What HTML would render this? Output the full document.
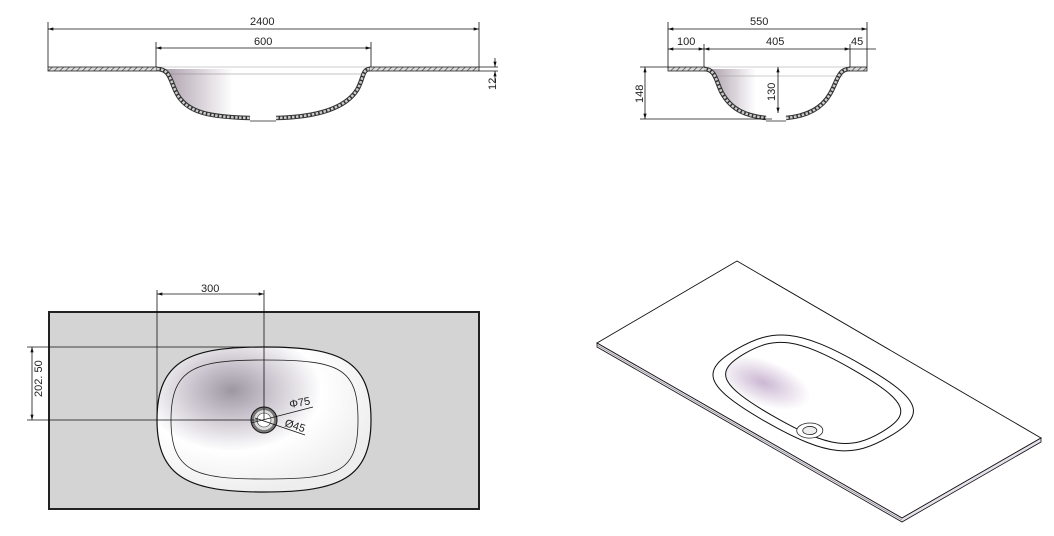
<!DOCTYPE html>
<html><head><meta charset="utf-8"><style>
html,body{margin:0;padding:0;background:#fff;}
svg{display:block;}
text{font-family:"Liberation Sans",sans-serif;font-size:11px;fill:#222;}
</style></head><body>
<svg width="1054" height="536" viewBox="0 0 1054 536" xmlns="http://www.w3.org/2000/svg">
<defs>
<pattern id="h" width="4" height="4" patternUnits="userSpaceOnUse" patternTransform="rotate(45)">
<rect width="4" height="4" fill="#ddd"/><line x1="0" y1="0" x2="0" y2="4" stroke="#555" stroke-width="1.6"/>
</pattern>
<marker id="a" viewBox="0 0 10 6" refX="10" refY="3" markerWidth="8" markerHeight="4" orient="auto-start-reverse"><path d="M0,0 L10,3 L0,6 z" fill="#111"/></marker>
<linearGradient id="g1" x1="0" y1="0" x2="1" y2="0"><stop offset="0" stop-color="#a89aa8"/><stop offset="0.35" stop-color="#fff"/></linearGradient>
<radialGradient id="g2" cx="0.35" cy="0.3" r="0.7"><stop offset="0" stop-color="#9c98a0"/><stop offset="0.25" stop-color="#c8c2cc"/><stop offset="0.6" stop-color="#fff"/><stop offset="1" stop-color="#eee"/></radialGradient>
<radialGradient id="g3" cx="0.25" cy="0.3" r="0.6"><stop offset="0" stop-color="#cbb7d3"/><stop offset="0.5" stop-color="#fff"/></radialGradient>
</defs>

<!-- FRONT SECTION -->
<path d="M160,69 C172,70 172,80 178,92 C188,112 210,116 262,117 C320,116 345,105 356,88 C362,78 362,70 368,69 Z" fill="url(#g1)"/>
<line x1="166" y1="74" x2="364" y2="74" stroke="#888" stroke-width="0.6"/>
<line x1="156" y1="67" x2="371" y2="67" stroke="#999" stroke-width="0.6"/>
<rect x="48" y="67" width="109" height="4" fill="url(#h)" stroke="#222" stroke-width="0.8"/>
<rect x="369" y="67" width="110" height="4" fill="url(#h)" stroke="#222" stroke-width="0.8"/>
<path d="M157,69 C170,69 170,80 176,92 C186,113 210,117 250,118 M276,118 C320,117 346,107 357,90 C364,78 362,69 370,69" fill="none" stroke="#333" stroke-width="4.5"/>
<path d="M157,69 C170,69 170,80 176,92 C186,113 210,117 250,118 M276,118 C320,117 346,107 357,90 C364,78 362,69 370,69" fill="none" stroke="#ccc" stroke-width="2.5" stroke-dasharray="2.5 1.5"/>
<line x1="250" y1="121" x2="276" y2="121" stroke="#222" stroke-width="0.8"/>
<g stroke="#111" stroke-width="0.8" fill="none">
<line x1="48" y1="22" x2="48" y2="67"/><line x1="479" y1="22" x2="479" y2="67"/>
<line x1="48" y1="29" x2="479" y2="29" marker-start="url(#a)" marker-end="url(#a)"/>
<line x1="156" y1="42" x2="156" y2="67"/><line x1="371" y1="42" x2="371" y2="67"/>
<line x1="156" y1="48" x2="371" y2="48" marker-start="url(#a)" marker-end="url(#a)"/>
<line x1="479" y1="67" x2="498" y2="67"/><line x1="479" y1="71" x2="498" y2="71"/>
<line x1="495" y1="58" x2="495" y2="67" marker-end="url(#a)"/><line x1="495" y1="82" x2="495" y2="71" marker-end="url(#a)"/>
</g>
<text x="250" y="25">2400</text><text x="254" y="45">600</text>
<text transform="translate(496,90) rotate(-90)">12</text>

<!-- SIDE SECTION -->
<path d="M707,69 C716,72 716,82 722,92 C732,110 750,116 770,117 C800,116 820,106 830,92 C836,82 838,72 846,69 Z" fill="url(#g1)"/>
<line x1="712" y1="76" x2="843" y2="76" stroke="#999" stroke-width="0.6"/>
<line x1="704" y1="67" x2="850" y2="67" stroke="#999" stroke-width="0.6"/>
<rect x="668" y="67" width="37" height="4" fill="url(#h)" stroke="#222" stroke-width="0.8"/>
<rect x="849" y="67" width="18" height="4" fill="url(#h)" stroke="#222" stroke-width="0.8"/>
<path d="M704,69 C716,69 716,82 722,93 C732,111 748,116 766,118 M786,118 C808,116 822,108 830,94 C838,80 838,69 850,69" fill="none" stroke="#333" stroke-width="4.5"/>
<path d="M704,69 C716,69 716,82 722,93 C732,111 748,116 766,118 M786,118 C808,116 822,108 830,94 C838,80 838,69 850,69" fill="none" stroke="#ccc" stroke-width="2.5" stroke-dasharray="2.5 1.5"/>
<line x1="766" y1="121" x2="786" y2="121" stroke="#222" stroke-width="0.8"/>
<g stroke="#111" stroke-width="0.8" fill="none">
<line x1="668" y1="22" x2="668" y2="67"/><line x1="867" y1="22" x2="867" y2="67"/>
<line x1="668" y1="29" x2="867" y2="29" marker-start="url(#a)" marker-end="url(#a)"/>
<line x1="704" y1="44" x2="704" y2="67"/><line x1="850" y1="44" x2="850" y2="67"/>
<line x1="668" y1="49" x2="704" y2="49" marker-start="url(#a)" marker-end="url(#a)"/>
<line x1="704" y1="49" x2="850" y2="49" marker-start="url(#a)" marker-end="url(#a)"/>
<line x1="850" y1="49" x2="876" y2="49"/>
<line x1="640" y1="67" x2="668" y2="67"/><line x1="640" y1="119" x2="772" y2="119"/>
<line x1="645" y1="67" x2="645" y2="119" marker-start="url(#a)" marker-end="url(#a)"/>
<line x1="778" y1="67" x2="778" y2="113" marker-start="url(#a)" marker-end="url(#a)"/>
</g>
<text x="750" y="25">550</text><text x="677" y="45">100</text><text x="766" y="45">405</text><text x="851" y="45">45</text>
<text transform="translate(643,103) rotate(-90)">148</text>
<text transform="translate(775,101) rotate(-90)">130</text>

<!-- PLAN VIEW -->
<rect x="49" y="312" width="430" height="197" fill="#d4d4d4" stroke="#222" stroke-width="2"/>
<path d="M157,420 C157,360 190,347 264,347 C340,347 371,360 371,420 C371,478 340,492 264,492 C190,492 157,478 157,420 Z" fill="url(#g2)" stroke="#111" stroke-width="1.2"/>
<path d="M171,420 C171,368 195,360 264,360 C340,360 358,368 358,420 C358,472 340,479 264,479 C195,479 171,472 171,420 Z" fill="none" stroke="#222" stroke-width="0.8"/>
<circle cx="264" cy="420" r="13" fill="#777" stroke="#111" stroke-width="1"/>
<circle cx="264" cy="420" r="10" fill="#ddd"/>
<circle cx="264" cy="420" r="7" fill="#fff" stroke="#333" stroke-width="0.6"/>
<g stroke="#111" stroke-width="0.8" fill="none">
<line x1="157" y1="290" x2="157" y2="420"/><line x1="264" y1="290" x2="264" y2="420"/>
<line x1="157" y1="294" x2="264" y2="294" marker-start="url(#a)" marker-end="url(#a)"/>
<line x1="27" y1="347" x2="265" y2="347"/><line x1="27" y1="420" x2="258" y2="420"/>
<line x1="32" y1="347" x2="32" y2="420" marker-start="url(#a)" marker-end="url(#a)"/>
<line x1="251" y1="423" x2="313" y2="407"/>
<line x1="255" y1="418" x2="305" y2="435"/>
</g>
<text x="201" y="292">300</text>
<text transform="translate(42,397) rotate(-90)">202. 50</text>
<text transform="translate(290,408) rotate(-10)">Φ75</text>
<text transform="translate(284,426) rotate(18)">Ø45</text>

<!-- ISO VIEW -->
<path d="M597,343 L737,261 L1041,438 L902,518 Z" fill="#fff" stroke="#111" stroke-width="0.9"/>
<path d="M597,343 L902,518 L1041,438 L1041,442 L902,522 L597,347 Z" fill="#e6e0ea" stroke="#111" stroke-width="0.8"/>
<line x1="597" y1="345" x2="902" y2="520" stroke="#666" stroke-width="0.5"/>
<g transform="matrix(0.709,0.407,0.711,-0.416,597,343)">
<path d="M107,90 C107,40 125,22 215,22 C305,22 322,40 322,90 C322,140 305,158 215,158 C125,158 107,140 107,90 Z" fill="#fff" stroke="#111" stroke-width="1" vector-effect="non-scaling-stroke"/>
<path d="M118,90 C118,48 135,34 215,34 C295,34 311,48 311,90 C311,132 295,146 215,146 C135,146 118,132 118,90 Z" fill="url(#g3)" stroke="#111" stroke-width="1" vector-effect="non-scaling-stroke"/>
<circle cx="258" cy="42" r="13" fill="#fff" stroke="#222" stroke-width="0.8" vector-effect="non-scaling-stroke"/>
<circle cx="258" cy="42" r="7" fill="#eee" stroke="#222" stroke-width="0.8" vector-effect="non-scaling-stroke"/>
</g>
</svg>
</body></html>
